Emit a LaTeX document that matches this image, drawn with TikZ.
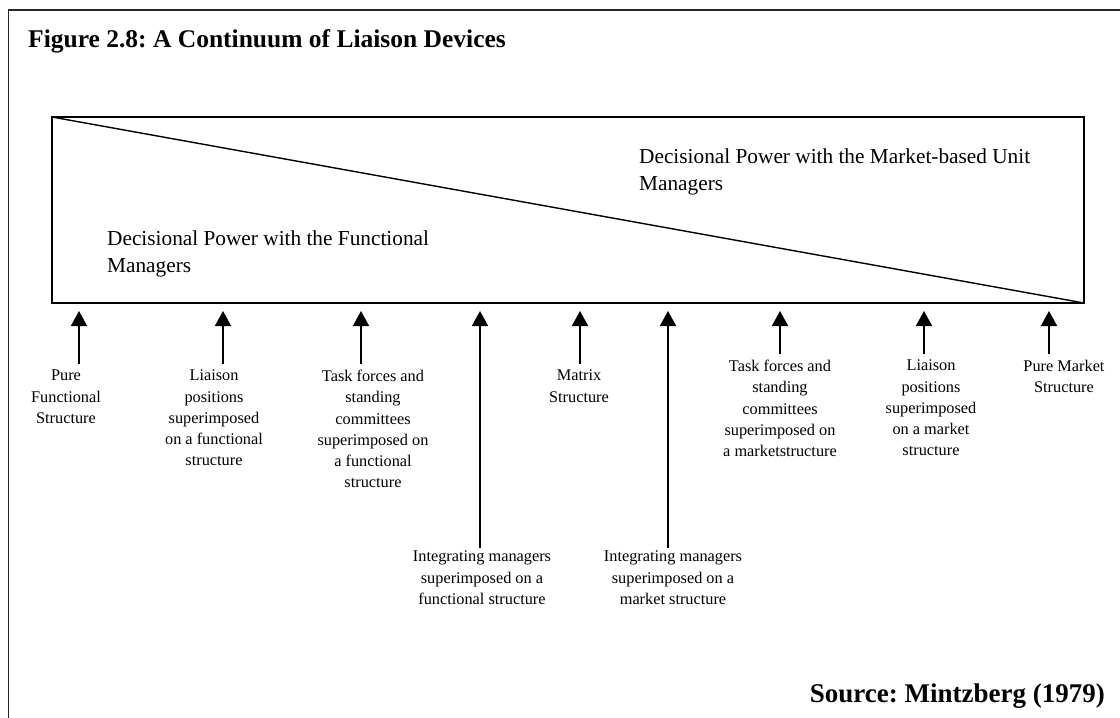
\documentclass[tikz,border=0pt]{standalone}
\usepackage{fontspec}
\setmainfont{Liberation Serif}
\usepackage{tikz}
\usetikzlibrary{positioning,calc,arrows.meta}
\frenchspacing
\tikzset{
  frame/.style    = {line width=1.8pt, draw=black!85},
  box/.style      = {rectangle, draw, line width=1.8pt, anchor=north west,
                     outer sep=0pt, inner sep=0pt},
  boxtext/.style  = {anchor=north west, inner sep=0pt, align=left,
                     font=\fontsize{21.3}{27.5}\selectfont},
  devlabel/.style = {anchor=north, inner sep=0pt, align=center,
                     font=\fontsize{16.3}{21.2}\selectfont},
  devarrow/.style = {->, line width=1.8pt},
  heading/.style  = {inner sep=0pt, font=\fontsize{25.5}{30}\selectfont\bfseries},
  >={Triangle[width=16pt,length=15pt]}
}
\newcommand{\DrawDevice}[6]{%
  % puts the label under the box
  \node[devlabel] (#1) at (#3,#4) {#6};
  % tip of the arrow, just below the box
  \coordinate (#1tip) at (#2,311);
  % draws the arrow from the label up to the box
  \draw[devarrow, shorten <=#5pt] (#1tip |- #1.north) -- (#1tip);
}

\begin{document}
\begin{tikzpicture}[x=1pt,y=-1pt]
    \useasboundingbox (0,0) rectangle (1120,718);

    % outer frame (only top and left show)
    \draw[frame] (8.5,740) -- (8.5,10) -- (1140,10);

    \node[heading, anchor=base west] (title) at (28,47)
    {Figure 2.8: A Continuum of Liaison Devices};

    % the continuum box and its diagonal
    \node[box, minimum width=1032pt, minimum height=186pt] (box) at (52,117) {};
    \draw[line width=1.4pt] (box.north west) -- (box.south east);

    \node[boxtext] (mkt) at (639,148.5)
    {Decisional Power with the Market-based Unit\\Managers};
    \node[boxtext] (fun) at (107,230.5)
    {Decisional Power with the Functional\\Managers};

    \DrawDevice{pf}{79}{66}{370}{6}
    {Pure\\Functional\\Structure}
    \DrawDevice{lpf}{223}{214}{370}{6}
    {Liaison\\positions\\superimposed\\on a functional\\structure}
    \DrawDevice{tff}{361}{373}{370}{6}
    {Task forces and\\standing\\committees\\superimposed on\\a functional\\structure}
    \DrawDevice{imf}{480}{482}{551}{3}
    {Integrating managers\\superimposed on a\\functional structure}
    \DrawDevice{mx}{580}{579}{370}{6}
    {Matrix\\Structure}
    \DrawDevice{imm}{668}{673}{551}{3}
    {Integrating managers\\superimposed on a\\market structure}
    \DrawDevice{tfm}{780}{780}{360}{6}
    {Task forces and\\standing\\committees\\superimposed on\\a marketstructure}
    \DrawDevice{lpm}{924}{931}{360}{6}
    {Liaison\\positions\\superimposed\\on a market\\structure}
    \DrawDevice{pm}{1049}{1064}{360}{6}
    {Pure Market\\Structure}

    \node[heading, anchor=base east, font=\fontsize{27}{30}\selectfont\bfseries] (src) at (1105,702)
    {Source: Mintzberg (1979)};
\end{tikzpicture}
\end{document}
